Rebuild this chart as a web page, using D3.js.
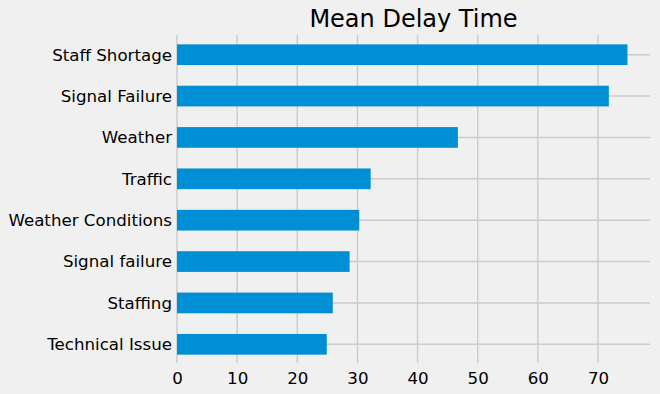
<!DOCTYPE html>
<html>
<head>
<meta charset="utf-8">
<script src="https://cdn.jsdelivr.net/npm/d3@7"></script>
<style>
  html, body { margin: 0; padding: 0; background: #f0f0f0; }
  svg { display: block; }
  text { font-family: "DejaVu Sans", sans-serif; fill: #000; }
</style>
</head>
<body>
<script>
// Data (bottom to top as drawn by pandas barh)
const categories = ["Technical Issue", "Staffing", "Signal failure", "Weather Conditions",
                    "Traffic", "Weather", "Signal Failure", "Staff Shortage"];
const meanDelay = [24.9, 25.9, 28.7, 30.3, 32.2, 46.7, 71.8, 74.9];
const xTicks = [0, 10, 20, 30, 40, 50, 60, 70];
const titleText = "Mean Delay Time";

const W = 660, H = 394;
const mLeft = 177, mRight = 650, mTop = 34, mBottom = 365;

const svg = d3.select("body").append("svg")
  .attr("width", W).attr("height", H);

svg.append("rect").attr("width", W).attr("height", H).attr("fill", "#f0f0f0");

const xMax = d3.max(meanDelay) * 1.05;
const x = d3.scaleLinear().domain([0, xMax]).range([mLeft, mRight]);
const y = d3.scaleLinear().domain([-0.5, categories.length - 0.5]).range([mBottom, mTop]);
const barH = Math.abs(y(0.25) - y(-0.25));

// grid lines
const grid = svg.append("g");
grid.selectAll("line.v").data(xTicks).join("line")
  .attr("class", "v")
  .attr("x1", d => x(d)).attr("x2", d => x(d))
  .attr("y1", mTop + 1).attr("y2", mBottom - 2)
  .attr("stroke", "#cbcbcb").attr("stroke-width", 1.4);
grid.selectAll("line.h").data(categories).join("line")
  .attr("class", "h")
  .attr("x1", mLeft).attr("x2", mRight)
  .attr("y1", (d, i) => y(i)).attr("y2", (d, i) => y(i))
  .attr("stroke", "#cbcbcb").attr("stroke-width", 1.4);

// bars
svg.append("g").selectAll("rect").data(meanDelay).join("rect")
  .attr("x", x(0))
  .attr("y", (d, i) => y(i) - barH / 2)
  .attr("width", d => x(d) - x(0))
  .attr("height", barH)
  .attr("fill", "#008fd5");

// x axis
const xAxis = svg.append("g")
  .attr("transform", `translate(0,${mBottom})`)
  .call(d3.axisBottom(x).tickValues(xTicks).tickSize(0).tickPadding(0).tickFormat(d3.format("d")));
xAxis.select(".domain").remove();
xAxis.selectAll("text")
  .attr("dy", null).attr("y", 19)
  .attr("fill", "#000")
  .style("font-size", "16.67px")
  .style("font-family", "DejaVu Sans, sans-serif");

// y axis
const yAxis = svg.append("g")
  .attr("transform", `translate(${mLeft},0)`)
  .call(d3.axisLeft(y).tickValues(d3.range(categories.length)).tickSize(0).tickPadding(5)
        .tickFormat(i => categories[i]));
yAxis.select(".domain").remove();
yAxis.selectAll("text")
  .attr("fill", "#000")
  .style("font-size", "16.67px")
  .style("font-family", "DejaVu Sans, sans-serif");

// title
svg.append("text")
  .attr("x", (mLeft + mRight) / 2)
  .attr("y", 27)
  .attr("text-anchor", "middle")
  .style("font-size", "24px")
  .text(titleText);
</script>
</body>
</html>
